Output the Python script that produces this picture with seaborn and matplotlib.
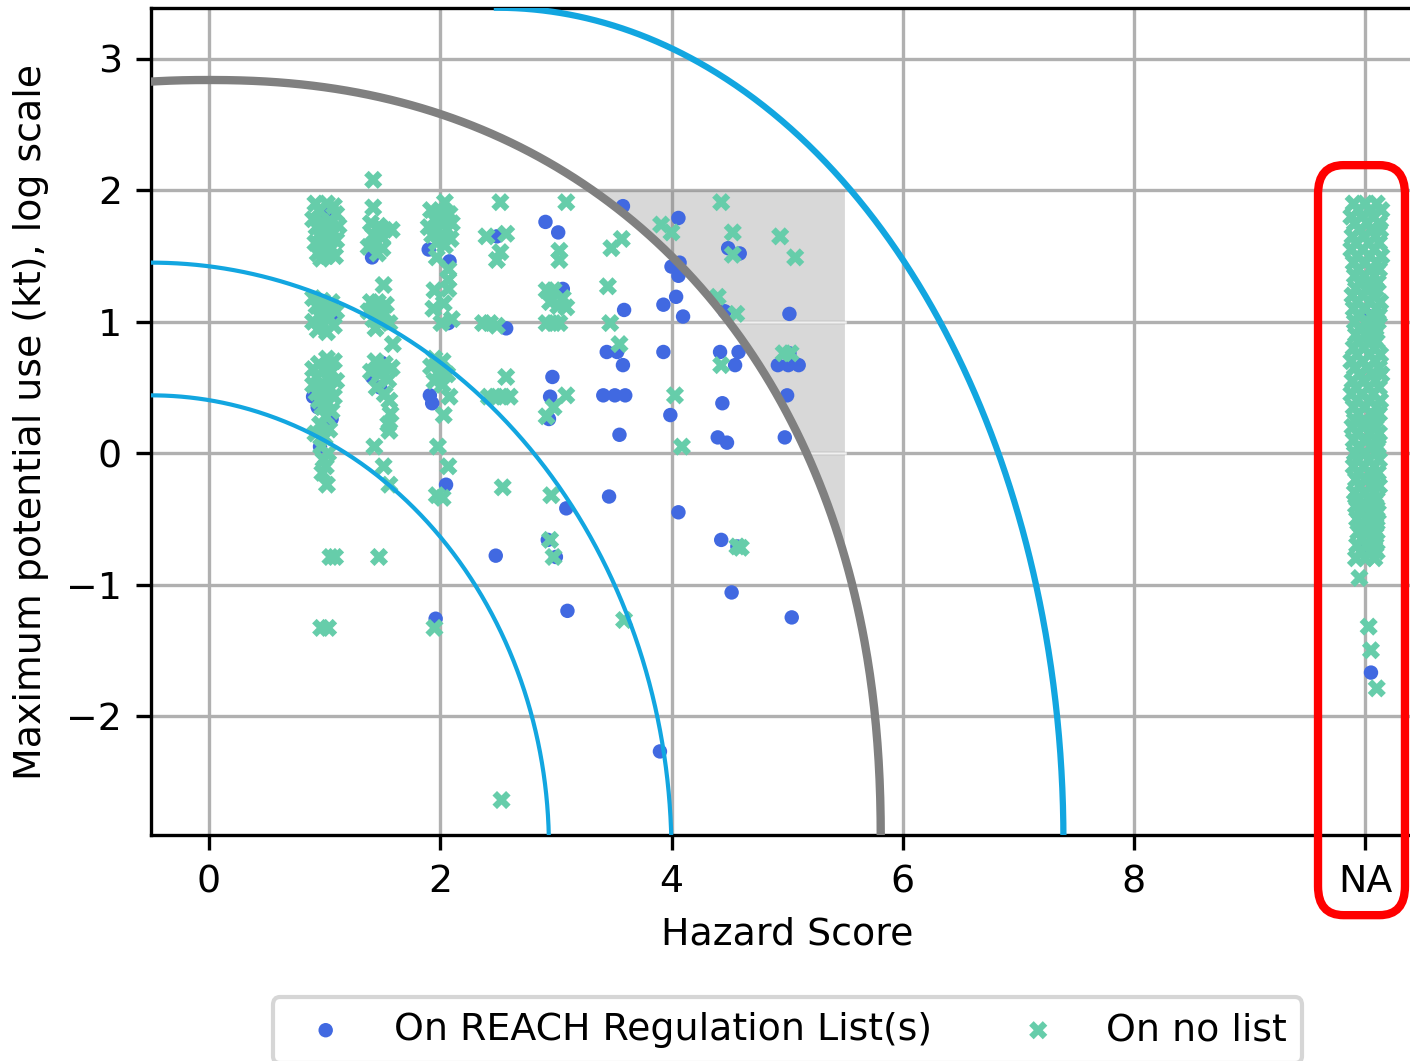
import numpy as np
import pandas as pd
import matplotlib
matplotlib.use("Agg")
import matplotlib.pyplot as plt
import seaborn as sns
from matplotlib.patches import FancyBboxPatch

plt.rcParams["font.size"] = 9.1

# ---------------- data ----------------
# Substances on REACH regulation list(s): (hazard score, log10 max use)
reach_col1 = [(1.00, 1.82), (1.07, 1.06), (0.90, 0.43), (1.06, 0.26), (0.96, 0.05), (0.94, 0.35)]
reach_col15 = [(1.41, 1.49), (1.49, 0.69), (1.41, 0.58), (1.48, 0.50)]
reach_col2 = [(1.90, 1.55), (2.08, 1.46), (2.07, 0.99), (1.91, 0.44), (1.93, 0.38), (2.05, -0.24), (1.96, -1.26)]
reach_col25 = [(2.49, 1.65), (2.57, 0.95), (2.48, -0.78)]
reach_col3 = [(2.91, 1.76), (3.02, 1.68), (3.06, 1.25), (2.97, 0.58), (2.95, 0.43), (2.94, 0.26),
              (2.93, -0.66), (3.00, -0.79), (3.09, -0.42), (3.10, -1.20)]
reach_col35 = [(3.58, 1.88), (3.59, 1.09), (3.44, 0.77), (3.53, 0.77), (3.58, 0.67), (3.41, 0.44),
               (3.51, 0.44), (3.60, 0.44), (3.55, 0.14), (3.46, -0.33)]
reach_col4 = [(4.06, 1.79), (4.00, 1.42), (4.07, 1.45), (4.06, 1.35), (4.04, 1.19), (3.93, 1.13),
              (4.10, 1.04), (3.93, 0.77), (3.99, 0.29), (4.06, -0.45), (3.90, -2.27)]
reach_col45 = [(4.49, 1.56), (4.59, 1.52), (4.46, 1.08), (4.42, 0.77), (4.58, 0.77), (4.55, 0.67),
               (4.44, 0.38), (4.40, 0.12), (4.48, 0.08), (4.43, -0.66), (4.57, -0.71), (4.52, -1.06)]
reach_col5 = [(5.02, 1.06), (4.92, 0.67), (5.01, 0.67), (5.10, 0.67), (5.02, 0.76), (5.00, 0.44),
              (4.98, 0.12), (5.04, -1.25)]
reach_na = [(10.00, 1.06), (10.00, -0.72), (10.05, -1.67)]

# Substances on no list
nolist_col1 = [(0.92, 1.90), (1.02, 1.90), (1.08, 1.88), (0.95, 1.85), (1.10, 1.82), (0.90, 1.78),
               (0.98, 1.76), (1.05, 1.75), (1.12, 1.73), (0.93, 1.72), (1.00, 1.70), (1.08, 1.68),
               (0.95, 1.66), (1.03, 1.64), (1.10, 1.62), (0.92, 1.60), (0.98, 1.58), (1.06, 1.56),
               (0.94, 1.52), (1.02, 1.50), (1.09, 1.50), (0.97, 1.48),
               (0.90, 1.18), (0.98, 1.16), (1.06, 1.15), (0.93, 1.12), (1.02, 1.10), (1.10, 1.08),
               (0.95, 1.05), (1.04, 1.03), (0.90, 1.00), (0.99, 0.98), (1.08, 0.97), (0.94, 0.94),
               (1.02, 0.92),
               (1.02, 0.72), (1.08, 0.70), (0.95, 0.68), (0.90, 0.64), (0.99, 0.63), (1.06, 0.62),
               (0.93, 0.58), (1.02, 0.57), (1.10, 0.55), (0.90, 0.52), (0.97, 0.50), (1.05, 0.49),
               (0.93, 0.46), (1.00, 0.44), (1.08, 0.43), (0.95, 0.40), (1.03, 0.38), (0.98, 0.35),
               (1.06, 0.32), (1.01, 0.28), (0.96, 0.22), (1.04, 0.18), (0.92, 0.15), (1.00, 0.12),
               (0.97, 0.05), (1.03, 0.00), (0.99, -0.05), (1.01, -0.10), (0.98, -0.15), (1.02, -0.24),
               (1.05, -0.79), (1.09, -0.79), (0.97, -1.33), (1.03, -1.33)]
nolist_col15 = [(1.42, 2.08), (1.42, 1.87), (1.40, 1.75), (1.47, 1.73), (1.52, 1.70), (1.58, 1.70),
                (1.42, 1.66), (1.50, 1.64), (1.44, 1.60), (1.38, 1.57), (1.50, 1.56), (1.46, 1.52),
                (1.51, 1.28), (1.40, 1.15), (1.46, 1.15), (1.53, 1.13), (1.38, 1.08), (1.45, 1.08),
                (1.52, 1.06), (1.42, 1.02), (1.50, 1.00), (1.56, 0.99), (1.44, 0.95), (1.59, 0.83),
                (1.44, 0.70), (1.52, 0.68), (1.58, 0.65), (1.40, 0.62), (1.48, 0.60), (1.55, 0.56),
                (1.45, 0.50), (1.52, 0.45), (1.56, 0.40), (1.57, 0.30), (1.55, 0.22), (1.56, 0.17),
                (1.43, 0.05), (1.51, -0.10), (1.56, -0.24), (1.47, -0.79)]
nolist_col2 = [(2.04, 1.91), (1.92, 1.85), (2.00, 1.84), (2.08, 1.82), (1.95, 1.78), (2.03, 1.77),
               (2.10, 1.75), (1.90, 1.72), (1.98, 1.70), (2.06, 1.70), (1.93, 1.66), (2.01, 1.64),
               (2.09, 1.63), (1.97, 1.60), (2.04, 1.58), (1.97, 1.49), (2.07, 1.40), (2.07, 1.32),
               (2.07, 1.25), (1.95, 1.24), (2.03, 1.14), (1.94, 1.10), (2.10, 1.02), (2.01, 0.99),
               (1.95, 0.72), (2.02, 0.70), (1.92, 0.66), (1.99, 0.62), (2.06, 0.60), (1.95, 0.55),
               (2.02, 0.52), (2.08, 0.43), (2.03, 0.29), (1.98, 0.05), (2.07, -0.10), (1.97, -0.32),
               (2.02, -0.34), (1.95, -1.33)]
nolist_col25 = [(2.52, 1.91), (2.40, 1.65), (2.57, 1.67), (2.52, 1.53), (2.49, 1.47), (2.49, 0.97),
                (2.37, 0.99), (2.43, 0.99), (2.57, 0.58), (2.42, 0.43), (2.48, 0.43), (2.54, 0.43),
                (2.60, 0.43), (2.54, -0.26), (2.53, -2.64)]
nolist_col3 = [(3.09, 1.91), (3.03, 1.54), (3.03, 1.47), (2.92, 1.24), (2.98, 1.24), (3.06, 1.18),
               (2.95, 1.15), (3.02, 1.12), (3.09, 1.11), (2.92, 0.99), (2.98, 0.99), (3.03, 0.99),
               (3.09, 0.44), (2.98, 0.35), (2.92, 0.28), (2.96, -0.32), (2.95, -0.66), (2.98, -0.79)]
nolist_col35 = [(3.48, 1.56), (3.57, 1.63), (3.45, 1.27), (3.47, 0.99), (3.55, 0.83), (3.59, -1.27)]
nolist_col4 = [(3.91, 1.74), (4.00, 1.68), (4.03, 0.44), (4.09, 0.05)]
nolist_col45 = [(4.43, 1.91), (4.53, 1.68), (4.53, 1.51), (4.40, 1.19), (4.56, 1.06), (4.43, 0.67),
                (4.57, -0.71), (4.60, -0.72)]
nolist_col5 = [(4.94, 1.65), (5.07, 1.49), (4.97, 0.76), (5.03, 0.76)]
# Hazard score NA (plotted at position 10): rows of (log use, x positions of the points)
nolist_na_rows = [
    (1.90, 9.90, 10.00, 10.10), (1.85, 9.94, 10.05, 10.14), (1.80, 9.88, 9.97, 10.07),
    (1.75, 9.91, 10.02, 10.12), (1.70, 9.95, 10.06, 10.13), (1.65, 9.89, 9.99, 10.09),
    (1.60, 9.92, 10.03, 10.12), (1.55, 9.88, 9.98, 10.08), (1.50, 9.93, 10.04, 10.14),
    (1.45, 9.90, 10.00, 10.10), (1.40, 9.94, 10.05, 10.12), (1.35, 9.91, 9.99, 10.08),
    (1.30, 9.95, 10.03, 10.11), (1.25, 9.92, 10.01, 10.09), (1.20, 9.89, 9.98, 10.07),
    (1.15, 9.93, 10.04, 10.13), (1.10, 9.90, 10.00, 10.10), (1.05, 9.94, 10.05, 10.12),
    (1.00, 9.91, 10.02, 10.11), (0.95, 9.95, 10.04, 10.09), (0.90, 9.92, 10.01, 10.08),
    (0.85, 9.94, 10.03, 10.10), (0.80, 9.90, 9.99, 10.08), (0.75, 9.93, 10.04, 10.13),
    (0.70, 9.88, 9.98, 10.09), (0.65, 9.91, 10.02, 10.12), (0.60, 9.95, 10.06, 10.14),
    (0.55, 9.89, 9.99, 10.09), (0.50, 9.92, 10.03, 10.12), (0.45, 9.88, 9.97, 10.07),
    (0.40, 9.93, 10.04, 10.13), (0.35, 9.90, 10.00, 10.10), (0.30, 9.94, 10.05, 10.12),
    (0.25, 9.91, 9.99, 10.08), (0.20, 9.89, 9.98, 10.09), (0.15, 9.93, 10.04, 10.12),
    (0.10, 9.90, 10.01, 10.10), (0.05, 9.94, 10.05, 10.11), (0.00, 9.91, 10.00, 10.09),
    (-0.05, 9.93, 10.03, 10.12), (-0.10, 9.90, 9.99, 10.08), (-0.15, 9.94, 10.04, 10.11),
    (-0.20, 9.92, 10.01, 10.09), (-0.25, 9.95, 10.05, 10.12), (-0.30, 9.91, 10.00, 10.08),
    (-0.35, 9.93, 10.03, 10.10), (-0.40, 9.92, 10.01, 10.09), (-0.45, 9.95, 10.04, 10.11),
    (-0.50, 9.93, 10.02, 10.10), (-0.55, 9.96, 10.04, 10.09), (-0.60, 9.94, 10.02, 10.10),
    (-0.65, 9.97, 10.05, 10.08), (-0.70, 9.93, 10.01, 10.09), (-0.75, 9.96, 10.04, 10.10),
    (-0.80, 9.92, 10.00, 10.08),
]
nolist_na_sparse = [(9.95, -0.95), (10.03, -1.32), (10.05, -1.50), (10.10, -1.79)]

x_tick_values = [0, 2, 4, 6, 8, 10]
x_tick_labels = ["0", "2", "4", "6", "8", "NA"]
series_labels = ["On REACH Regulation List(s)", "On no list"]

# guide arcs: (centre x, centre y, semi-axis x, semi-axis y, exponent)
arc_inner = (-0.5, -3.0, 3.44, 3.44, 2.0)
arc_middle = (-0.5, -3.05, 4.50, 4.50, 2.0)
arc_outer = (2.49, -2.95, 4.90, 6.34, 2.0)
arc_priority = (0.0, -2.95, 5.81, 5.79, 2.2)
shade_right = 5.5
shade_band_edges = [-1.0, 0.0, 1.0, 2.0]

# ---------------- build tables ----------------
reach = (reach_col1 + reach_col15 + reach_col2 + reach_col25 + reach_col3 + reach_col35
         + reach_col4 + reach_col45 + reach_col5 + reach_na)
nolist_na = [(x, row[0]) for row in nolist_na_rows for x in row[1:]]
nolist = (nolist_col1 + nolist_col15 + nolist_col2 + nolist_col25 + nolist_col3 + nolist_col35
          + nolist_col4 + nolist_col45 + nolist_col5 + nolist_na + nolist_na_sparse)
df_reach = pd.DataFrame(reach, columns=["hazard", "use"])
df_nolist = pd.DataFrame(nolist, columns=["hazard", "use"])

# ---------------- figure ----------------
W, H = 1410, 1061
fig = plt.figure(figsize=(W / 300, H / 300), dpi=300)
ax = fig.add_axes([151 / W, 1 - 835 / H, (1423 - 151) / W, (835 - 8) / H])

blue_pts = "#4169E1"
green_pts = "#66CDAA"
arc_blue = "#12a6e0"

def arc_xy(params, t0, t1):
    x0, y0, a, b, p = params
    t = np.linspace(t0, t1, 600)
    c, s = np.cos(t), np.sin(t)
    return x0 + a * np.sign(c) * np.abs(c) ** (2 / p), y0 + b * np.abs(s) ** (2 / p)

def arc_x_at(params, y):
    x0, y0, a, b, p = params
    u = np.clip((y - y0) / b, 0, 1)
    return x0 + a * (1 - u ** p) ** (1 / p)

# shaded priority region (outside the grey arc, left of shade_right, below top band edge)
for lo, hi in zip(shade_band_edges[:-1], shade_band_edges[1:]):
    ys = np.linspace(lo, hi, 300)
    xs = arc_x_at(arc_priority, ys)
    ax.fill_betweenx(ys, xs, shade_right, where=xs < shade_right, interpolate=True,
                     facecolor=(0.5, 0.5, 0.5, 0.3), edgecolor="none", zorder=1.6)
for yb in shade_band_edges[1:-1]:
    ax.plot([arc_x_at(arc_priority, yb), shade_right], [yb, yb], color="#f0f0f0", lw=0.6, zorder=1.7)

sns.scatterplot(data=df_reach, x="hazard", y="use", color=blue_pts, marker="o", s=12,
                linewidth=0, edgecolor="none", label=series_labels[0], ax=ax, zorder=2)
sns.scatterplot(data=df_nolist, x="hazard", y="use", color=green_pts, marker="X", s=19,
                linewidth=0, edgecolor="none", label=series_labels[1], ax=ax, zorder=2)
if ax.get_legend() is not None:
    ax.get_legend().remove()

for params, t0, t1, col, lw in [(arc_inner, 0, np.pi / 2, arc_blue, 1.0),
                                (arc_middle, 0, np.pi / 2, arc_blue, 1.0),
                                (arc_outer, 0, np.pi / 2, arc_blue, 1.5),
                                (arc_priority, 0, np.pi, "grey", 2.0)]:
    xs, ys = arc_xy(params, t0, t1)
    ax.plot(xs, ys, color=col, lw=lw, zorder=3)

ax.set_xlim(-0.502, 10.5)
ax.set_ylim(-2.906, 3.388)
ax.set_xticks(x_tick_values)
ax.set_xticklabels(x_tick_labels)
ax.set_yticks([-2, -1, 0, 1, 2, 3])
ax.grid(True, color="#b0b0b0", lw=0.8, zorder=1.5)
ax.set_axisbelow("line")
ax.set_xlabel("Hazard Score")
ax.set_ylabel("Maximum potential use (kt), log scale")

# red highlight around the NA column
box = FancyBboxPatch((9.592, -3.516), 0.752, 5.708,
                     boxstyle="round,pad=0,rounding_size=0.22",
                     fill=False, edgecolor="red", lw=2.0, clip_on=False, zorder=6)
ax.add_patch(box)

handles, labels = ax.get_legend_handles_labels()
fig.legend(handles, labels, loc="upper center", bbox_to_anchor=(787.5 / W, 1 - 997 / H),
           borderaxespad=0, ncol=2, columnspacing=1.8, frameon=True)

fig.savefig("out.png", dpi=300)
